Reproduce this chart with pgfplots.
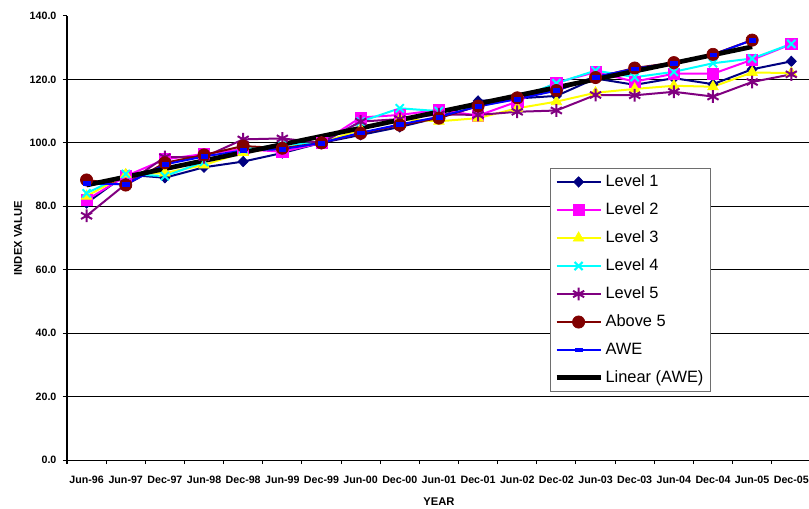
\documentclass[border=0pt]{standalone}
\usepackage{pgfplots}
\pgfplotsset{compat=1.18}
\usepackage{pgfplotstable}
\usepackage{fontspec}
\setmainfont{Liberation Sans}
\definecolor{cnavy}{RGB}{0,0,128}
\definecolor{cpink}{RGB}{255,0,255}
\definecolor{cyellow}{RGB}{255,255,0}
\definecolor{ccyan}{RGB}{0,255,255}
\definecolor{cpurple}{RGB}{128,0,128}
\definecolor{cmaroon}{RGB}{128,0,0}
\definecolor{cblue}{RGB}{0,0,255}
\definecolor{cgray}{RGB}{110,110,110}

\pgfplotstableread{
x  L1    L2    L3    L4    L5    A5    AWE
0  81.0  82.0  83.2  84.1  77.0  88.3  87.2
1  90.0  89.5  90.0  90.2  87.0  86.7  86.9
2  89.0  94.8  90.5  89.5  95.5  93.7  93.2
3  92.3  96.5  93.0  94.0  95.5  96.2  95.7
4  94.1  98.0  97.0  98.0  101.1 99.0  97.6
5  96.8  97.2  98.5  99.3  101.4 98.3  98.0
6  100.0 100.0 100.0 100.0 100.0 100.0 100.0
7  102.5 108.0 104.2 106.7 106.7 103.0 103.2
8  105.0 108.8 107.5 110.9 107.5 105.6 105.8
9  108.0 110.4 106.8 110.0 109.0 107.8 108.2
10 113.2 108.6 107.8 111.5 108.8 111.6 111.5
11 114.0 113.0 110.9 114.0 109.8 114.2 113.8
12 114.8 119.0 113.0 118.8 110.2 116.5 116.5
13 120.3 122.3 115.8 122.8 115.1 120.6 120.8
14 118.3 119.3 117.0 120.7 115.0 123.6 123.4
15 120.4 121.8 118.0 122.4 116.1 125.3 125.2
16 118.5 121.8 117.7 125.1 114.6 127.9 127.8
17 123.2 126.2 122.2 126.6 119.2 132.4 132.4
18 125.7 131.1 122.0 131.2 121.6 nan   nan
}\data

\pgfplotstableread{
x  T
0  86.7
17 130.3
}\trend

\begin{document}
\begin{tikzpicture}
\begin{axis}[
  scale only axis, width=557.9pt, height=333pt,
  xmin=-0.5, xmax=18.5, ymin=0, ymax=140,
  axis x line*=bottom, axis y line*=left,
  axis line style={black, line width=0.75pt},
  xtick={-0.5,0.5,...,18.5},
  x tick label as interval,
  xticklabels={Jun-96,Jun-97,Dec-97,Jun-98,Dec-98,Jun-99,Dec-99,Jun-00,Dec-00,Jun-01,Dec-01,Jun-02,Dec-02,Jun-03,Dec-03,Jun-04,Dec-04,Jun-05,Dec-05},
  ytick={0,20,...,140},
  extra y ticks={20,40,60,80,100,120},
  extra y tick labels={,,,,,},
  extra y tick style={grid=major},
  major grid style={black, line width=0.6pt},
  tick align=outside, major tick length=3pt,
  tick style={black, line width=0.75pt},
  /pgf/number format/assume math mode=true,
  yticklabel style={/pgf/number format/fixed, /pgf/number format/fixed zerofill, /pgf/number format/precision=1, xshift=-1.4pt},
  tick label style={font=\bfseries\fontsize{8}{9.6}\selectfont},
  xticklabel style={yshift=-5.8pt},
  xlabel={YEAR}, ylabel={INDEX VALUE},
  label style={font=\bfseries\fontsize{8.4}{10}\selectfont},
  xlabel style={at={(axis description cs:0.5,-0.093)}, anchor=center},
  ylabel style={at={(axis description cs:-0.0659,0.5)}, anchor=center},
  legend style={at={(0.649,0.658)}, anchor=north west, draw=cgray, line width=0.75pt, fill=white,
    font=\fontsize{12.3}{14}\selectfont, row sep=6.6pt, inner xsep=3pt, inner ysep=3pt},
  legend cell align=left,
  legend image code/.code={\draw[mark repeat=2,mark phase=2,#1] plot coordinates {(0cm,0cm) (0.58cm,0cm) (1.16cm,0cm)};},
]
\addplot[cnavy, line width=1.5pt, mark=diamond*, mark size=3.9pt, mark options={solid, fill=cnavy, xscale=1.3, line width=0.5pt}] table[x=x,y=L1]{\data};
\addlegendentry{Level 1}
\addplot[cpink, line width=1.5pt, mark=square*, mark size=4.2pt, mark options={solid, fill=cpink, line width=0.5pt}] table[x=x,y=L2]{\data};
\addlegendentry{Level 2}
\addplot[cyellow, line width=1.5pt, mark=triangle*, mark size=4.6pt, mark options={solid, fill=cyellow, line width=0.5pt}] table[x=x,y=L3]{\data};
\addlegendentry{Level 3}
\addplot[ccyan, line width=1.5pt, mark=x, mark size=4.3pt, mark options={solid}] table[x=x,y=L4]{\data};
\addlegendentry{Level 4}
\addplot[cpurple, line width=1.5pt, mark=asterisk, mark size=4.8pt, mark options={solid}] table[x=x,y=L5]{\data};
\addlegendentry{Level 5}
\addplot[cmaroon, line width=1.5pt, mark=*, mark size=4.6pt, mark options={solid, fill=cmaroon, line width=0.5pt}] table[x=x,y=A5]{\data};
\addlegendentry{Above 5}
\addplot[cblue, line width=1.5pt, mark=square*, mark size=1.4pt, mark options={solid, fill=cblue, xscale=1.7, line width=0.3pt}] table[x=x,y=AWE]{\data};
\addlegendentry{AWE}
\addplot[black, line width=3.5pt, no marks] table[x=x,y=T]{\trend};
\addlegendentry{Linear (AWE)}
\end{axis}
\pgfresetboundingbox
\path (-50.25pt,-36pt) rectangle (556.5pt,345pt);
\end{tikzpicture}
\end{document}
